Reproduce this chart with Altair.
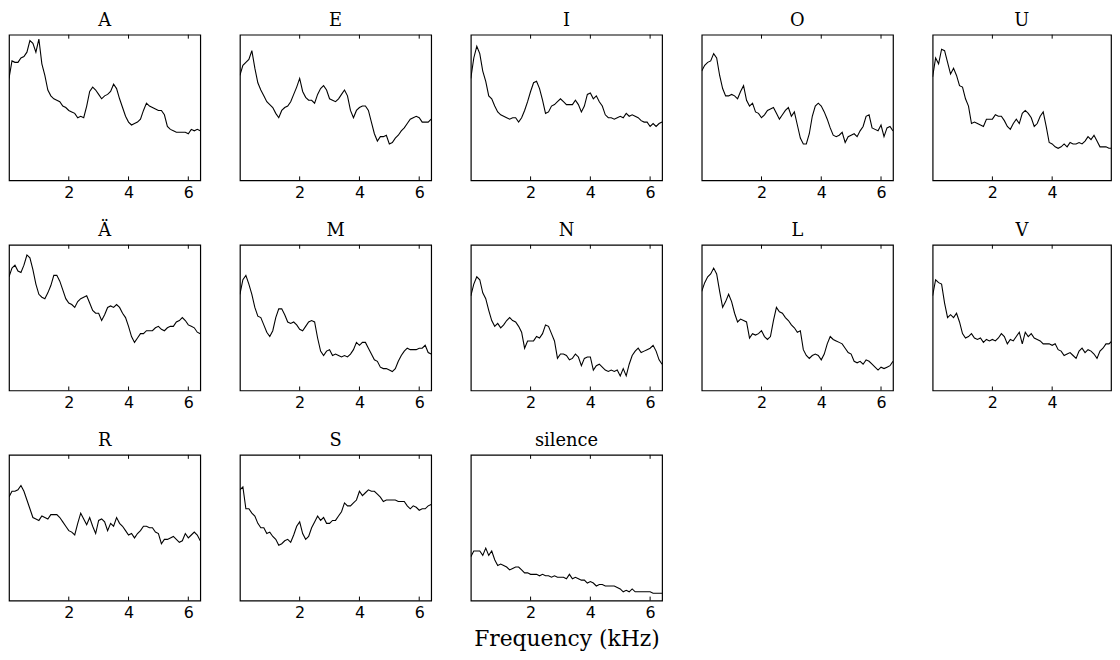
import altair as alt
import pandas as pd

# frequency grid in kHz (shared by all panels)
FREQ = [0.0, 0.1, 0.2, 0.3, 0.4, 0.5, 0.6, 0.7, 0.8, 0.9,
        1.0, 1.1, 1.2, 1.3, 1.4, 1.5, 1.6, 1.7, 1.8, 1.9,
        2.0, 2.1, 2.2, 2.3, 2.4, 2.5, 2.6, 2.7, 2.8, 2.9,
        3.0, 3.1, 3.2, 3.3, 3.4, 3.5, 3.6, 3.7, 3.8, 3.9,
        4.0, 4.1, 4.2, 4.3, 4.4, 4.5, 4.6, 4.7, 4.8, 4.9,
        5.0, 5.1, 5.2, 5.3, 5.4, 5.5, 5.6, 5.7, 5.8, 5.9,
        6.0, 6.1, 6.2, 6.3, 6.4]

TITLES = ["A", "E", "I", "O", "U", "Ä", "M", "N", "L", "V", "R", "S", "silence"]
TICKS = [2, 4, 6]

# relative spectral level (0 = bottom of panel, 100 = top)
A = [70, 82, 81, 81, 84, 85, 88, 96, 94, 88, 97, 80, 72, 62, 58, 56, 55, 54, 51, 50,
     48, 47, 46, 43, 44, 43, 51, 61, 64, 62, 59, 56, 58, 59, 61, 66, 63, 56, 50, 44,
     40, 38, 39, 40, 42, 48, 53, 51, 50, 49, 48, 48, 45, 37, 35, 34, 33, 33, 33, 33,
     32, 35, 34, 35, 34]
E = [72, 79, 81, 83, 89, 77, 67, 62, 58, 54, 52, 50, 46, 43, 48, 50, 51, 54, 59, 64,
     70, 61, 57, 55, 55, 53, 59, 63, 65, 62, 56, 55, 54, 56, 59, 62, 58, 48, 43, 48,
     50, 51, 51, 48, 40, 32, 27, 30, 30, 31, 25, 26, 29, 31, 34, 36, 39, 42, 43, 44,
     43, 40, 40, 40, 42]
I = [70, 84, 92, 87, 75, 68, 58, 56, 51, 47, 45, 44, 43, 42, 43, 43, 40, 43, 48, 54,
     61, 67, 68, 63, 55, 46, 47, 51, 52, 54, 56, 54, 52, 52, 52, 55, 52, 47, 51, 59,
     60, 56, 58, 54, 51, 45, 43, 43, 42, 43, 44, 43, 46, 44, 45, 44, 43, 41, 40, 40,
     37, 39, 37, 39, 40]
O = [75, 79, 81, 82, 87, 84, 72, 63, 58, 58, 59, 58, 56, 61, 65, 55, 51, 53, 47, 46,
     43, 45, 48, 49, 50, 46, 42, 45, 48, 50, 44, 47, 38, 29, 25, 25, 32, 44, 51, 53,
     51, 47, 42, 36, 31, 30, 31, 33, 26, 30, 31, 32, 30, 34, 37, 44, 45, 36, 35, 34,
     38, 30, 36, 37, 34]
U = [71, 84, 80, 90, 89, 81, 73, 77, 72, 65, 64, 56, 51, 39, 40, 39, 38, 37, 42, 42,
     42, 45, 44, 44, 41, 37, 35, 39, 42, 39, 46, 48, 46, 43, 37, 39, 44, 47, 37, 26,
     25, 23, 22, 23, 25, 23, 26, 25, 25, 26, 25, 27, 30, 28, 31, 27, 23, 23, 23, 22,
     22, 22, 22, 21, 21]
AE = [78, 84, 86, 82, 81, 86, 93, 91, 83, 73, 66, 64, 63, 67, 72, 79, 79, 75, 69, 63,
      60, 59, 57, 61, 63, 64, 65, 60, 55, 53, 53, 48, 52, 57, 58, 57, 59, 57, 53, 50,
      44, 37, 33, 36, 39, 39, 41, 41, 41, 43, 44, 42, 41, 43, 44, 44, 47, 48, 50, 48,
      45, 44, 43, 40, 39]
M = [66, 76, 79, 73, 66, 57, 51, 50, 45, 40, 37, 41, 50, 56, 56, 52, 47, 46, 47, 45,
     42, 41, 44, 47, 48, 47, 36, 27, 24, 27, 28, 24, 25, 24, 23, 24, 23, 25, 28, 33,
     31, 33, 33, 29, 25, 21, 20, 16, 15, 15, 14, 13, 15, 20, 24, 27, 29, 28, 28, 28,
     29, 29, 31, 26, 25]
N = [65, 73, 78, 76, 67, 63, 55, 48, 44, 46, 43, 45, 48, 50, 48, 47, 44, 40, 29, 34,
     34, 34, 37, 36, 39, 45, 44, 39, 34, 22, 25, 25, 24, 21, 22, 25, 23, 17, 22, 23,
     23, 14, 17, 18, 16, 14, 13, 14, 13, 14, 10, 15, 10, 18, 24, 27, 29, 26, 27, 28,
     29, 31, 27, 21, 18]
L = [68, 74, 78, 80, 84, 80, 68, 57, 61, 66, 61, 53, 47, 49, 48, 47, 36, 39, 38, 39,
     41, 37, 35, 37, 48, 57, 54, 53, 50, 48, 45, 43, 40, 41, 28, 24, 22, 24, 25, 24,
     21, 25, 32, 37, 35, 34, 33, 32, 29, 26, 25, 20, 19, 20, 18, 21, 20, 18, 16, 14,
     16, 15, 16, 17, 20]
V = [65, 76, 74, 73, 60, 50, 52, 50, 53, 47, 39, 36, 37, 39, 36, 35, 36, 33, 35, 34,
     35, 34, 36, 39, 37, 32, 35, 34, 37, 40, 32, 40, 37, 39, 36, 35, 34, 32, 32, 32,
     31, 32, 28, 27, 24, 25, 26, 24, 22, 27, 29, 26, 28, 27, 25, 22, 27, 29, 32, 32,
     34, 36, 34, 36, 37]
R = [71, 75, 75, 76, 79, 75, 69, 63, 57, 56, 55, 58, 57, 56, 59, 59, 59, 57, 54, 51,
     48, 47, 45, 53, 60, 56, 52, 57, 51, 46, 55, 56, 54, 48, 53, 51, 57, 53, 51, 48,
     45, 46, 43, 46, 48, 51, 51, 50, 50, 47, 46, 39, 42, 42, 43, 44, 42, 40, 41, 46,
     43, 45, 47, 45, 41]
S = [76, 78, 63, 63, 60, 58, 53, 50, 50, 46, 47, 44, 42, 38, 39, 41, 42, 40, 45, 51,
     54, 46, 42, 44, 50, 54, 58, 55, 57, 53, 53, 55, 55, 58, 61, 67, 65, 65, 67, 69,
     75, 72, 74, 76, 75, 75, 73, 71, 68, 69, 69, 69, 69, 68, 68, 68, 65, 63, 65, 64,
     62, 63, 63, 65, 66]
SILENCE = [30, 34, 34, 34, 31, 36, 31, 34, 28, 24, 25, 24, 23, 21, 22, 23, 23, 21, 19, 19,
           18, 18, 18, 17, 18, 17, 17, 16, 17, 16, 16, 16, 15, 18, 15, 16, 15, 14, 14, 12,
           13, 12, 10, 11, 11, 10, 10, 10, 10, 9, 8, 6, 7, 6, 8, 6, 6, 6, 6, 6,
           6, 5, 5, 5, 5]

SERIES = [A, E, I, O, U, AE, M, N, L, V, R, S, SILENCE]

W, H = 193, 147
W_LAST = 180          # last column is cut by the page edge in the original
SERIF = "DejaVu Serif"
SANS = "DejaVu Sans"


def panel(name, values, width, xtitle=None):
    xmax = 6.4 * width / W
    ticks = [t for t in TICKS if t < xmax]
    df = pd.DataFrame({"f": FREQ, "level": values})
    tick_df = pd.DataFrame({"f": ticks})
    xscale = alt.Scale(domain=[0, xmax], nice=False, zero=False)
    xaxis = alt.Axis(values=ticks, ticks=False, domain=False, grid=False,
                     labelFont=SANS, labelFontSize=16, labelColor="black",
                     labelPadding=4, titleFont=SERIF, titleFontSize=22,
                     titleFontWeight="normal", titleColor="black", titlePadding=8)
    xenc = alt.X("f:Q", scale=xscale, axis=xaxis, title=xtitle)
    line = alt.Chart(df).mark_line(color="black", strokeWidth=1.1, clip=True).encode(
        x=xenc,
        y=alt.Y("level:Q", scale=alt.Scale(domain=[0, 100], nice=False), axis=None),
    )
    top = alt.Chart(tick_df).mark_rule(color="black", strokeWidth=1).encode(
        x=xenc, y=alt.value(0), y2=alt.value(4))
    bottom = alt.Chart(tick_df).mark_rule(color="black", strokeWidth=1).encode(
        x=xenc, y=alt.value(H - 4), y2=alt.value(H))
    return alt.layer(line, top, bottom).properties(
        width=width, height=H,
        title=alt.TitleParams(name, font=SERIF, fontSize=18, fontWeight="normal",
                              color="black", offset=4),
    )


panels = []
for i, (name, vals) in enumerate(zip(TITLES, SERIES)):
    width = W_LAST if i % 5 == 4 else W
    panels.append(panel(name, vals, width, "Frequency (kHz)" if name == "silence" else None))

row1 = alt.hconcat(*panels[0:5], spacing=38)
row2 = alt.hconcat(*panels[5:10], spacing=38)
row3 = alt.hconcat(*panels[10:13], spacing=38)

chart = alt.vconcat(row1, row2, row3, spacing=20).properties(
    padding={"left": 0, "top": 0, "right": 0, "bottom": 0},
    background="white",
).configure_view(stroke="black", strokeWidth=1.2)

chart.save("out.html", embed_options={"renderer": "svg", "actions": False})
